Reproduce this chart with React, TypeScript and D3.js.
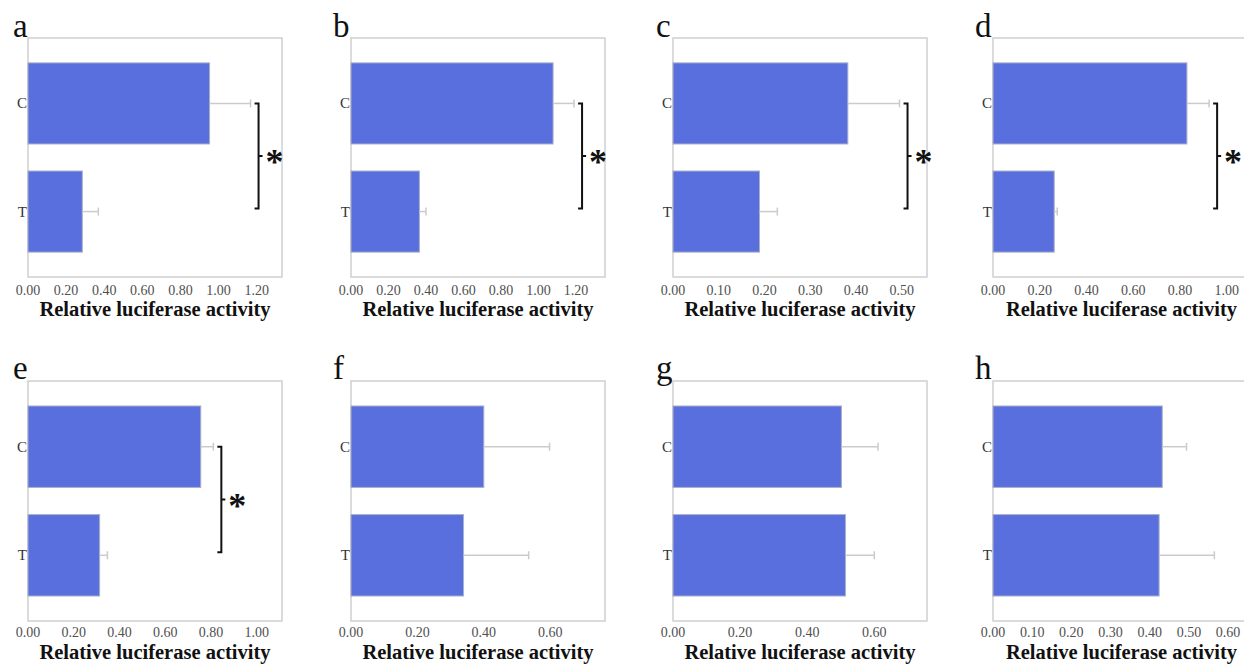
import React from "react";
import * as d3 from "d3";

// panel letters and groups
const PANELS = ["a", "b", "c", "d", "e", "f", "g", "h"];
const CATEGORIES = ["C", "T"];

// relative luciferase activity, mean and error per panel
const MEAN_C = [0.953, 1.078, 0.382, 0.83, 0.755, 0.4, 0.502, 0.432];
const MEAN_T = [0.285, 0.365, 0.189, 0.262, 0.313, 0.339, 0.514, 0.424];
const ERR_C = [0.215, 0.112, 0.113, 0.095, 0.055, 0.198, 0.109, 0.062];
const ERR_T = [0.084, 0.035, 0.039, 0.013, 0.034, 0.196, 0.086, 0.141];
const SIGNIFICANT = [true, true, true, true, true, false, false, false];

// x axis ticks and upper domain per panel
const TICKS = [
  [0, 0.2, 0.4, 0.6, 0.8, 1.0, 1.2],
  [0, 0.2, 0.4, 0.6, 0.8, 1.0, 1.2],
  [0, 0.1, 0.2, 0.3, 0.4, 0.5],
  [0, 0.2, 0.4, 0.6, 0.8, 1.0],
  [0, 0.2, 0.4, 0.6, 0.8, 1.0],
  [0, 0.2, 0.4, 0.6],
  [0, 0.2, 0.4, 0.6],
  [0, 0.1, 0.2, 0.3, 0.4, 0.5, 0.6],
];
const DOMAIN_MAX = [1.333, 1.355, 0.555, 1.1, 1.11, 0.765, 0.757, 0.656];

// layout
const COL_LEFT = [28, 351, 673, 993];
const COL_RIGHT = [282, 605, 927, 1250];
const LETTER_X = [13, 333, 656, 975];
const ROWS = [
  { top: 38, bottom: 277, letterY: 37, tickDy: 18, titleDy: 39 },
  { top: 381, bottom: 621, letterY: 379, tickDy: 16, titleDy: 38 },
];

const BAR = "#5a6fde";
const SERIF = "Liberation Serif, Tinos, DejaVu Serif, serif";

function Panel({ i }: { i: number }) {
  const col = i % 4;
  const row = ROWS[Math.floor(i / 4)];
  const left = COL_LEFT[col];
  const right = COL_RIGHT[col];

  const x = d3.scaleLinear().domain([0, DOMAIN_MAX[i]]).range([left, right]);
  const y = d3
    .scaleBand<string>()
    .domain(CATEGORIES)
    .range([row.top, row.bottom])
    .paddingInner(0.25)
    .paddingOuter(0.23);

  const means = [MEAN_C[i], MEAN_T[i]];
  const errs = [ERR_C[i], ERR_T[i]];
  const bw = y.bandwidth();
  const cy = (c: string) => (y(c) as number) + bw / 2;

  // significance bracket sits just past the C error bar
  const bx = x(MEAN_C[i] + ERR_C[i]) + 8;
  const by0 = cy("C");
  const by1 = cy("T") - 3;
  const bm = (by0 + by1) / 2;

  return (
    <g style={{ fontFamily: SERIF }}>
      <text x={LETTER_X[col]} y={row.letterY} fontSize={33} fill="#111">
        {PANELS[i]}
      </text>
      <rect
        x={left}
        y={row.top}
        width={right - left}
        height={row.bottom - row.top}
        fill="#fff"
        stroke="#cfcfcf"
        strokeWidth={1.5}
      />
      {CATEGORIES.map((c, k) => (
        <g key={c}>
          <rect
            x={x(0)}
            y={y(c)}
            width={x(means[k]) - x(0)}
            height={bw}
            fill={BAR}
            stroke="#a9b0c8"
            strokeWidth={1}
          />
          <line
            x1={x(means[k])}
            x2={x(means[k] + errs[k])}
            y1={cy(c)}
            y2={cy(c)}
            stroke="#cbcbcb"
            strokeWidth={1.5}
          />
          <line
            x1={x(means[k] + errs[k])}
            x2={x(means[k] + errs[k])}
            y1={cy(c) - 4}
            y2={cy(c) + 4}
            stroke="#cbcbcb"
            strokeWidth={1.5}
          />
          <text x={left - 1} y={cy(c) + 5} textAnchor="end" fontSize={15} fill="#333">
            {c}
          </text>
        </g>
      ))}
      {TICKS[i].map((t) => (
        <text
          key={t}
          x={x(t)}
          y={row.bottom + row.tickDy}
          textAnchor="middle"
          fontSize={14}
          fill="#505050"
        >
          {d3.format(".2f")(t)}
        </text>
      ))}
      <text
        x={(left + Math.min(right, 1244)) / 2 + (col === 3 ? 3 : 0)}
        y={row.bottom + row.titleDy}
        textAnchor="middle"
        fontWeight="bold"
        fontSize={20.5}
        fill="#111"
      >
        Relative luciferase activity
      </text>
      {SIGNIFICANT[i] && (
        <g>
          <path
            d={`M${bx - 4},${by0}H${bx}V${by1}H${bx - 4}M${bx},${bm}H${bx + 4}`}
            fill="none"
            stroke="#111"
            strokeWidth={2}
          />
          <text
            x={bx + 16}
            y={bm + 18}
            textAnchor="middle"
            fontWeight="bold"
            fontSize={36}
            fill="#111"
          >
            *
          </text>
        </g>
      )}
    </g>
  );
}

export default function App() {
  return (
    <svg
      width={1244}
      height={664}
      style={{ position: "absolute", left: 0, top: 0, background: "#fff" }}
    >
      {PANELS.map((p, i) => (
        <Panel key={p} i={i} />
      ))}
    </svg>
  );
}
